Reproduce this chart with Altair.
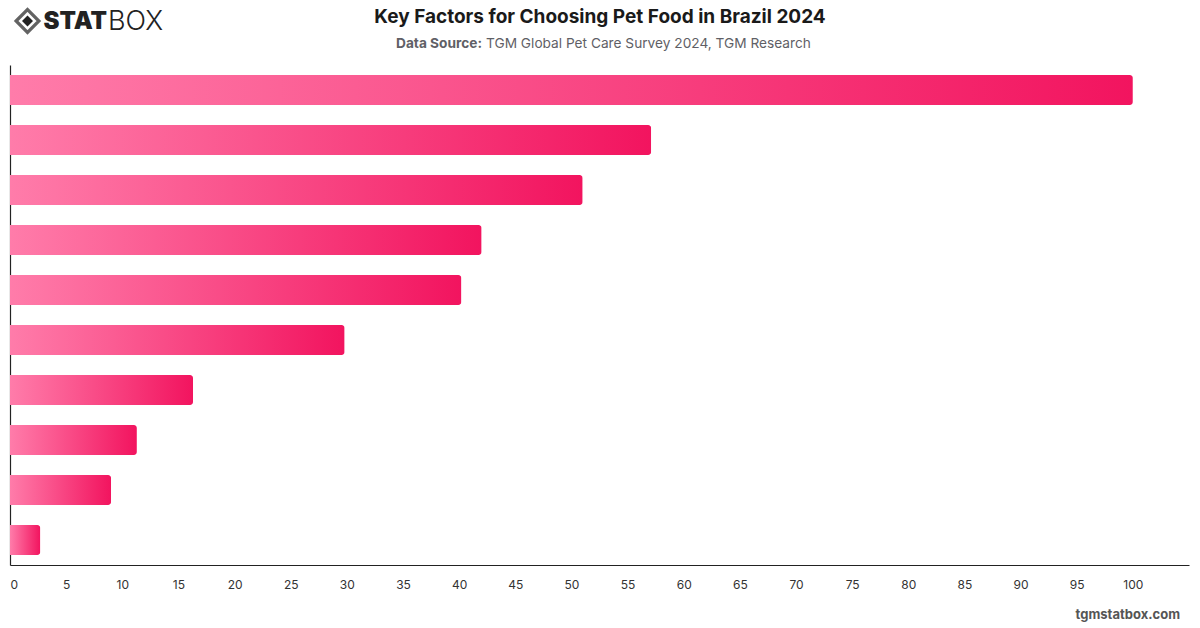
import altair as alt
import pandas as pd

# Share of respondents per factor (bars top to bottom)
factors = [
    "Factor 1", "Factor 2", "Factor 3", "Factor 4", "Factor 5",
    "Factor 6", "Factor 7", "Factor 8", "Factor 9", "Factor 10",
]
values = [100.0, 57.1, 51.0, 42.0, 40.2, 29.8, 16.3, 11.3, 9.0, 2.7]
tick_values = list(range(0, 101, 5))

title_text = "Key Factors for Choosing Pet Food in Brazil 2024"
source_label = "Data Source:"
source_text = "TGM Global Pet Care Survey 2024, TGM Research"
footer_text = "tgmstatbox.com"

FONT = "Inter"
W, H = 1179, 500

df = pd.DataFrame({"factor": factors, "value": values})
one = pd.DataFrame({"k": [0]})

gradient = alt.Gradient(
    gradient="linear",
    stops=[
        alt.GradientStop(color="#ff7caa", offset=0),
        alt.GradientStop(color="#f2145f", offset=1),
    ],
    x1=0, x2=1, y1=0, y2=0,
)

bars = alt.Chart(df).mark_bar(
    fill=gradient, cornerRadiusEnd=3
).encode(
    x=alt.X(
        "value:Q",
        scale=alt.Scale(domain=[0, 105], nice=False, zero=True),
        axis=alt.Axis(
            values=tick_values, grid=False, ticks=False, title=None,
            labelPadding=14, labelFlush=True, labelFontSize=12,
            labelColor="#333333", labelFont=FONT,
            domainColor="#222222", domainWidth=1.2,
        ),
    ),
    y=alt.Y(
        "factor:N", sort=None,
        scale=alt.Scale(paddingInner=0.4, paddingOuter=0.2),
        axis=alt.Axis(labels=False, ticks=False, title=None,
                      domainColor="#222222", domainWidth=1.2),
    ),
)


def label(text, x, y, size, weight="normal", color="#222222", align="left"):
    return alt.Chart(one).mark_text(
        text=text, font=FONT, fontSize=size, fontWeight=weight,
        color=color, align=align, baseline="middle",
    ).encode(x=alt.value(x), y=alt.value(y))


# Plot area starts at (10, 65) on the page
title = label(title_text, 590, -48, 19, "bold", "#1a1a1a", "center")
src_bold = label(source_label, 472, -21, 13.7, "bold", "#5f5f66", "right")
src_rest = label(source_text, 476, -21, 13.7, "normal", "#5f5f66", "left")
footer = label(footer_text, 1170, 550, 13, "bold", "#555555", "right")

logo_outer = alt.Chart(one).mark_point(
    shape="diamond", filled=False, stroke="#222222", strokeWidth=3.2, size=520
).encode(x=alt.value(17.5), y=alt.value(-44))
logo_inner = alt.Chart(one).mark_point(
    shape="diamond", filled=True, fill="#222222", opacity=1, size=120
).encode(x=alt.value(17.5), y=alt.value(-44))
logo_stat = label("STAT", 97, -43, 24, 900, "#222222", "right")
logo_box = label("BOX", 98, -43, 27, 300, "#222222", "left")

chart = alt.layer(
    bars, title, src_bold, src_rest, footer,
    logo_outer, logo_inner, logo_stat, logo_box,
).properties(
    width=W, height=H,
    autosize="none",
    padding={"left": 10, "top": 65, "right": 11, "bottom": 63},
    background="white",
).configure_view(stroke=None)

chart.save("out.html", embed_options={"renderer": "svg", "actions": False})
